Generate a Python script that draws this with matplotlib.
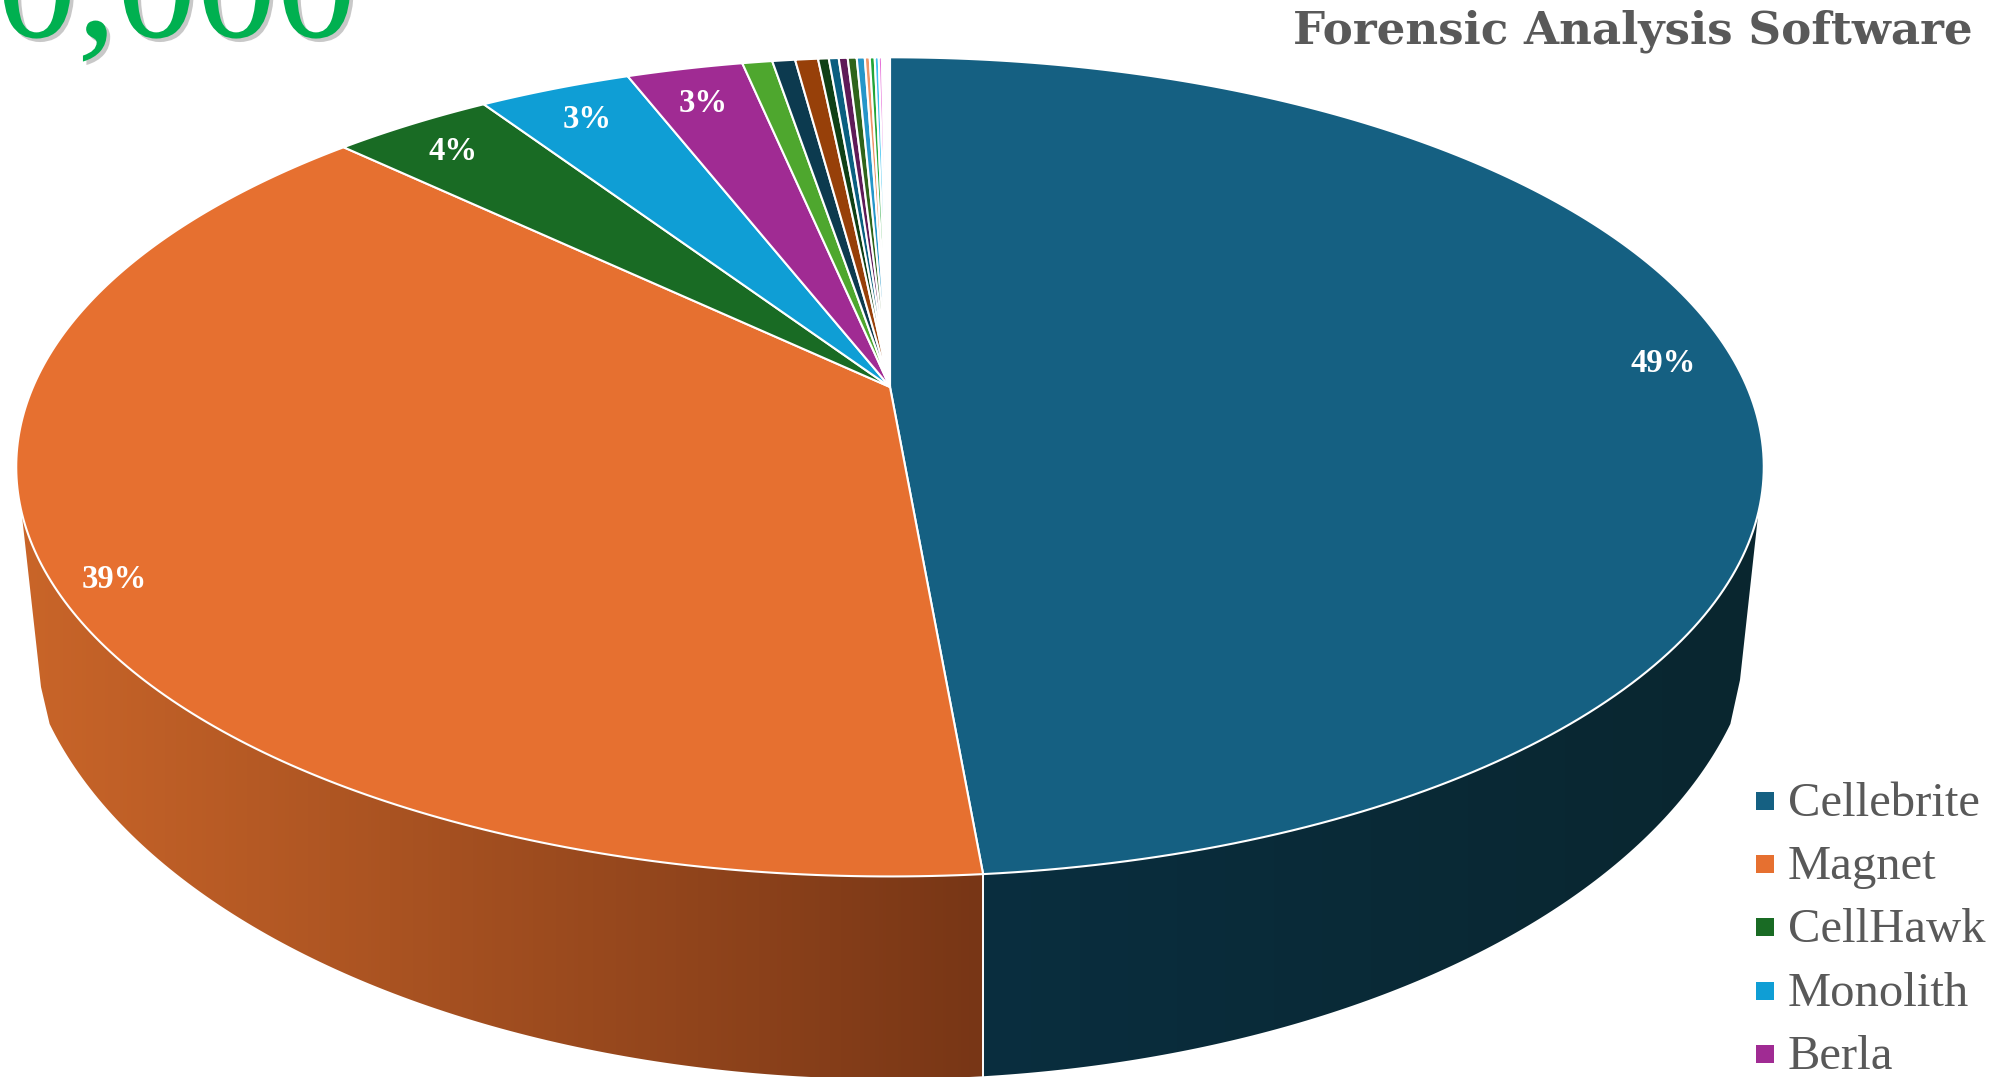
import numpy as np
import matplotlib
matplotlib.use("Agg")
import matplotlib.pyplot as plt
import matplotlib.patheffects as pe
from matplotlib.colors import LinearSegmentedColormap
from matplotlib.patches import Polygon, Rectangle

legend_names = ["Cellebrite", "Magnet", "CellHawk", "Monolith", "Berla"]
shares = [48.6, 38.52, 3.58, 3.4, 2.6, 0.67, 0.51, 0.51, 0.24, 0.22, 0.20, 0.20,
          0.18, 0.11, 0.11, 0.09, 0.07, 0.18]
colors = ["#156082", "#E67030", "#196B24", "#0F9ED5", "#A02B93", "#4EA72E",
          "#0C3A4F", "#974009", "#0F4016", "#0A5F80", "#5F1A58", "#2F641B",
          "#2596C9", "#EE9669", "#22A539", "#3CC1F0", "#E56FD8", "#FFFFFF"]
title = "Forensic Analysis Software"
big_number = "0,000"

# pixel positions of the percent labels
label_xy = [(1663, 363), (114, 579), (453, 151), (587, 120), (703, 103)]

# perspective of the top face
cx, cy = 890, 387
sx, sy, k = 857, 394, 0.195
# ellipse of the bottom rim
bot_a, bot_b, bot_cy = 870, 479, 600


def project(theta, r=1.0):
    x = r * np.sin(theta)
    y = r * np.cos(theta)
    d = 1 + k * y
    return cx + sx * x / d, cy - sy * y / d


def bottom_rim(phi):
    return cx + bot_a * np.sin(phi), bot_cy - bot_b * np.cos(phi)


def wall(ax, t0, t1, p0, p1, knee, c_left, c_right):
    xt, yt = project(np.linspace(t0, t1, 120))
    xb, yb = bottom_rim(np.linspace(p1, p0, 120))
    # the outer edge bends a little before it joins the rim
    if p1 > np.pi:
        xs, ys = np.r_[xt, knee[0], xb], np.r_[yt, knee[1], yb]
    else:
        xs, ys = np.r_[xt, xb, knee[0]], np.r_[yt, yb, knee[1]]
    pts = np.column_stack([xs, ys])
    poly = Polygon(pts, closed=True, fc="none", ec="none", transform=ax.transData)
    ax.add_patch(poly)
    cmap = LinearSegmentedColormap.from_list("w", [c_left, c_right])
    im = ax.imshow(np.linspace(0, 1, 256)[None, :], cmap=cmap, aspect="auto",
                   extent=[pts[:, 0].min(), pts[:, 0].max(), 1100, 400], zorder=1)
    im.set_clip_path(poly)


def main():
    plt.rcParams["font.family"] = ["Liberation Serif", "DejaVu Serif"]
    fig = plt.figure(figsize=(20.13, 10.77), dpi=100)
    ax = fig.add_axes([0, 0, 1, 1])

    edges = np.cumsum([0] + shares) / sum(shares) * 2 * np.pi
    seam = edges[1]
    seam_x = project(seam)[0]
    seam_phi = np.pi - np.arcsin((seam_x - cx) / bot_a)

    # side wall, only the two big slices can be seen
    side = np.radians(107.4)
    wall(ax, side, seam, np.radians(105), seam_phi, (1740, 680), "#0A2E3F", "#09262F")
    wall(ax, seam, 2 * np.pi - side, seam_phi, np.radians(255), (41, 687), "#C96529", "#783616")
    ax.plot([seam_x, bottom_rim(seam_phi)[0]], [project(seam)[1], bottom_rim(seam_phi)[1]],
            color="white", lw=1.4, zorder=2)

    for i in range(len(shares)):
        th = np.linspace(edges[i], edges[i + 1], 200)
        xs, ys = project(th)
        ax.fill(np.r_[cx, xs], np.r_[cy, ys], color=colors[i], ec="white", lw=1.5,
                joinstyle="round", zorder=3)

    for i, (lx, ly) in enumerate(label_xy):
        ax.text(lx, ly, f"{shares[i]:.0f}%", color="white", fontsize=23.5, fontweight="bold",
                ha="center", va="center", zorder=5)

    ax.text(1973, 31, title, color="#595959", fontsize=32.6, fontweight="bold",
            family=["DejaVu Serif"], ha="right", va="center", zorder=5)

    num = ax.text(-3, 37, big_number, color="#00B050", fontsize=115, ha="left",
                  va="baseline", zorder=6)
    num.set_path_effects([pe.withSimplePatchShadow(offset=(2.5, -2.5), shadow_rgbFace="#777777", alpha=0.4)])

    for i, name in enumerate(legend_names):
        y = 801 + 63.2 * i
        ax.add_patch(Rectangle((1756, y - 9), 18, 18, fc=colors[i], ec="none", zorder=5))
        ax.text(1788, y + 3, name, color="#595959", fontsize=35, ha="left", va="center", zorder=5)

    ax.set_xlim(0, 2013)
    ax.set_ylim(1077, 0)
    ax.axis("off")
    fig.savefig("out.png", dpi=100, facecolor="white")


if __name__ == "__main__":
    main()
